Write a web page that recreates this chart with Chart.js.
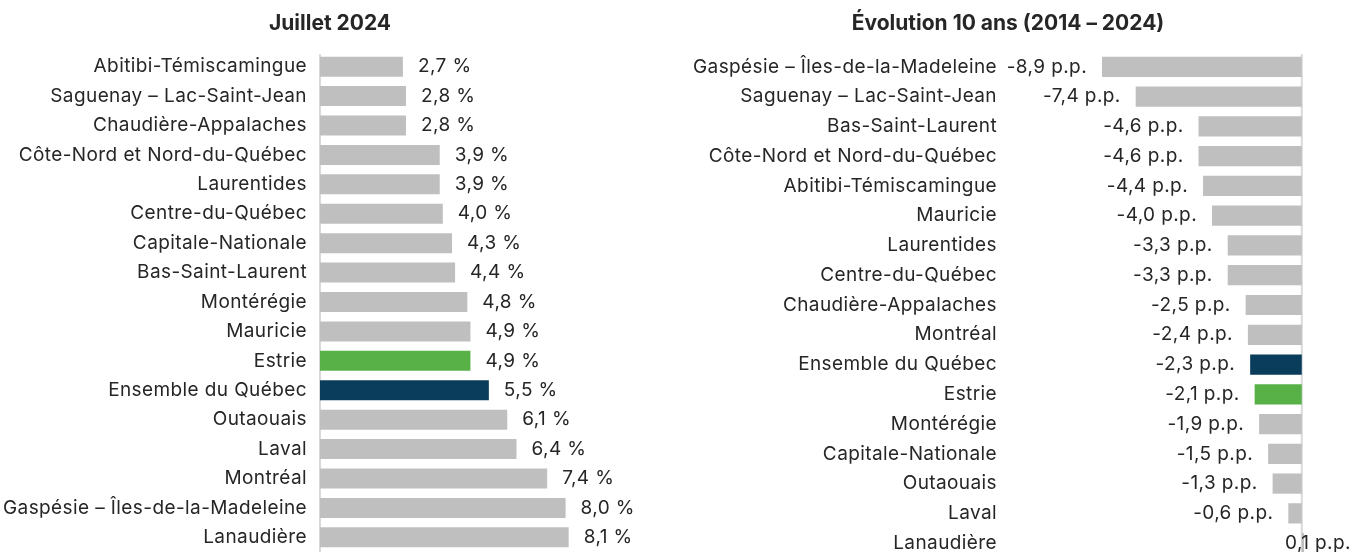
<!DOCTYPE html>
<html>
<head>
<meta charset="utf-8">
<script src="https://cdn.jsdelivr.net/npm/chart.js@4"></script>
<style>
  html, body { margin:0; padding:0; background:#fff; width:1356px; height:552px; overflow:hidden; }
  #left { position:absolute; left:0; top:0; width:660px; height:552px; }
  #right { position:absolute; left:660px; top:0; width:696px; height:558px; }
</style>
</head>
<body>
<div id="left"><canvas id="c1"></canvas></div>
<div id="right"><canvas id="c2"></canvas></div>
<script>
// ---- Data ----
const leftTitle = "Juillet 2024";
const leftCategories = ["Abitibi-Témiscamingue","Saguenay – Lac-Saint-Jean","Chaudière-Appalaches","Côte-Nord et Nord-du-Québec","Laurentides","Centre-du-Québec","Capitale-Nationale","Bas-Saint-Laurent","Montérégie","Mauricie","Estrie","Ensemble du Québec","Outaouais","Laval","Montréal","Gaspésie – Îles-de-la-Madeleine","Lanaudière"];
const leftValues = [2.7,2.8,2.8,3.9,3.9,4.0,4.3,4.4,4.8,4.9,4.9,5.5,6.1,6.4,7.4,8.0,8.1];

const rightTitle = "Évolution 10 ans (2014 – 2024)";
const rightCategories = ["Gaspésie – Îles-de-la-Madeleine","Saguenay – Lac-Saint-Jean","Bas-Saint-Laurent","Côte-Nord et Nord-du-Québec","Abitibi-Témiscamingue","Mauricie","Laurentides","Centre-du-Québec","Chaudière-Appalaches","Montréal","Ensemble du Québec","Estrie","Montérégie","Capitale-Nationale","Outaouais","Laval","Lanaudière"];
const rightValues = [-8.9,-7.4,-4.6,-4.6,-4.4,-4.0,-3.3,-3.3,-2.5,-2.4,-2.3,-2.1,-1.9,-1.5,-1.3,-0.6,0.1];

// ---- Styles ----
const GRAY = "#bfbfbf", NAVY = "#0a3d5c", GREEN = "#57b147", AXIS = "#d9d9d9", TEXT = "#262626";
const FONT = "Inter";
const FSIZE = 19;
const SPACING = "0.4px";
function colorFor(cat){ return cat === "Estrie" ? GREEN : (cat === "Ensemble du Québec" ? NAVY : GRAY); }
function fmt(v){ return v.toFixed(1).replace(".", ","); }

const spacingPlugin = {
  id: "spacing",
  beforeDraw(chart){ chart.ctx.letterSpacing = SPACING; }
};

function titlePlugin(text){
  return {
    id: "customTitle",
    afterDraw(chart){
      const ctx = chart.ctx;
      ctx.save();
      ctx.letterSpacing = "0px";
      ctx.font = "700 21px " + FONT;
      ctx.fillStyle = TEXT;
      ctx.textAlign = "center";
      ctx.textBaseline = "middle";
      ctx.fillText(text, chart.width/2, 24);
      ctx.restore();
    }
  };
}

function zeroLinePlugin(){
  return {
    id: "zeroLine",
    beforeDatasetsDraw(chart){
      const ctx = chart.ctx, xs = chart.scales.x, a = chart.chartArea;
      const x = xs.getPixelForValue(0);
      ctx.save();
      ctx.strokeStyle = AXIS;
      ctx.lineWidth = 2;
      ctx.beginPath();
      ctx.moveTo(x, a.top + 2);
      ctx.lineTo(x, a.bottom);
      ctx.stroke();
      ctx.restore();
    }
  };
}

function valueLabelPlugin(suffix, mode){
  return {
    id: "valueLabels",
    afterDatasetsDraw(chart){
      const ctx = chart.ctx;
      const meta = chart.getDatasetMeta(0);
      const xs = chart.scales.x;
      const data = chart.data.datasets[0].data;
      ctx.save();
      ctx.font = "400 " + FSIZE + "px " + FONT;
      ctx.fillStyle = TEXT;
      ctx.textBaseline = "middle";
      meta.data.forEach((bar, i) => {
        const v = data[i];
        const txt = fmt(v) + suffix;
        const px = xs.getPixelForValue(v);
        if (mode === "right") {
          ctx.textAlign = "left";
          ctx.fillText(txt, px + 15, bar.y);
        } else {
          if (v < 0) { ctx.textAlign = "right"; ctx.fillText(txt, px - 15, bar.y); }
          else { ctx.textAlign = "left"; ctx.fillText(txt, px - 19, bar.y); }
        }
      });
      ctx.restore();
    }
  };
}

function makeChart(id, cats, vals, xmin, xmax, yWidth, pad, title, suffix, mode){
  return new Chart(document.getElementById(id), {
    type: "bar",
    data: {
      labels: cats,
      datasets: [{
        data: vals,
        backgroundColor: cats.map(colorFor),
        borderWidth: 0,
        barPercentage: 0.68,
        categoryPercentage: 1.0
      }]
    },
    options: {
      indexAxis: "y",
      responsive: true,
      maintainAspectRatio: false,
      animation: false,
      layout: { padding: pad },
      plugins: { legend: { display: false }, tooltip: { enabled: false }, title: { display: false } },
      scales: {
        x: {
          display: false,
          min: xmin, max: xmax
        },
        y: {
          grid: { display: false, drawTicks: false },
          border: { display: false },
          ticks: { color: TEXT, font: { family: FONT, size: FSIZE }, padding: 13, autoSkip: false },
          afterFit(s){ s.width = yWidth; s.paddingTop = 0; s.paddingBottom = 0; }
        }
      }
    },
    plugins: [spacingPlugin, titlePlugin(title), zeroLinePlugin(), valueLabelPlugin(suffix, mode)]
  });
}

makeChart("c1", leftCategories, leftValues, 0, 10, 320, { top: 52, bottom: 0, left: 0, right: 33 }, leftTitle, " %", "right");
makeChart("c2", rightCategories, rightValues, -13, 0.5, 350, { top: 52, bottom: 0, left: 0, right: 43 }, rightTitle, " p.p.", "left");
</script>
</body>
</html>
